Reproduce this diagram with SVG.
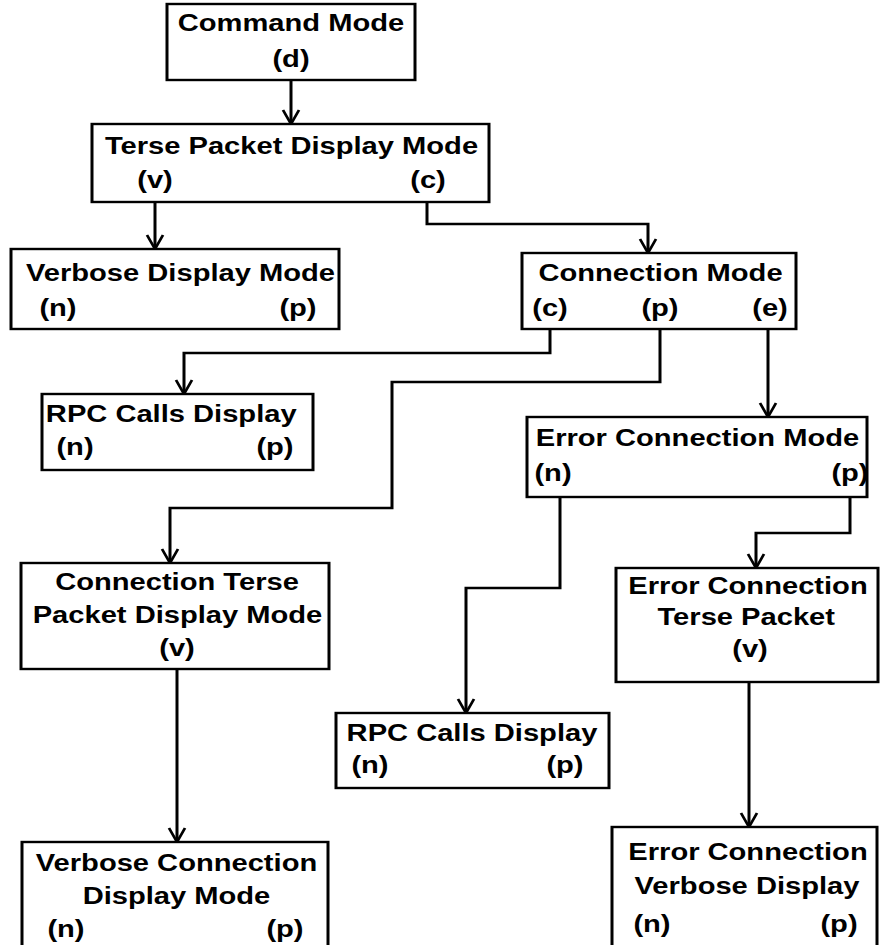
<svg xmlns="http://www.w3.org/2000/svg" width="880" height="945" viewBox="0 0 880 945">
<style>
.box{fill:#fff;stroke:#000;stroke-width:2.4}
.t{font-family:"Liberation Sans",Arial,sans-serif;font-weight:bold;font-size:23.3px;fill:#000;text-anchor:middle}
.c{fill:none;stroke:#000;stroke-width:2.4}
</style>
<defs>
<marker id="arr" markerUnits="userSpaceOnUse" markerWidth="20" markerHeight="20" viewBox="-16 -10 20 20" refX="0" refY="0" orient="auto" overflow="visible">
<path d="M-14,-6.4 L0,0 L-14,6.4" fill="none" stroke="#000" stroke-width="2.2"/>
</marker>
</defs>
<rect width="880" height="945" fill="#fff"/>
<g transform="scale(1.25,1)">
<g id="connectors">
<path class="c" d="M232.8,80 V124" marker-end="url(#arr)"/>
<path class="c" d="M124,202 V249" marker-end="url(#arr)"/>
<path class="c" d="M341.6,202 V224 H518.4 V253" marker-end="url(#arr)"/>
<path class="c" d="M440,329 V353 H147.2 V394" marker-end="url(#arr)"/>
<path class="c" d="M528,329 V382 H313.6 V508 H136 V563" marker-end="url(#arr)"/>
<path class="c" d="M614.4,329 V417" marker-end="url(#arr)"/>
<path class="c" d="M448,497 V588 H372.8 V713" marker-end="url(#arr)"/>
<path class="c" d="M680,497 V533 H604.8 V568" marker-end="url(#arr)"/>
<path class="c" d="M141.6,669 V842" marker-end="url(#arr)"/>
<path class="c" d="M599.2,682 V827" marker-end="url(#arr)"/>
</g>
<g id="command-mode">
<rect class="box" x="133.6" y="4" width="198.4" height="76"/>
<text class="t" x="232.8" y="31">Command Mode</text>
<text class="t" x="232.8" y="67">(d)</text>
</g>
<g id="terse-packet-display-mode">
<rect class="box" x="73.6" y="124" width="317.6" height="78"/>
<text class="t" x="233.2" y="154">Terse Packet Display Mode</text>
<text class="t" x="124" y="188">(v)</text>
<text class="t" x="342.4" y="188">(c)</text>
</g>
<g id="verbose-display-mode">
<rect class="box" x="8.8" y="249" width="262.4" height="80"/>
<text class="t" x="144.4" y="281">Verbose Display Mode</text>
<text class="t" x="46.4" y="316">(n)</text>
<text class="t" x="238.4" y="316">(p)</text>
</g>
<g id="connection-mode">
<rect class="box" x="417.6" y="253" width="219.2" height="76"/>
<text class="t" x="528.4" y="281">Connection Mode</text>
<text class="t" x="440" y="316">(c)</text>
<text class="t" x="528" y="316">(p)</text>
<text class="t" x="616" y="316">(e)</text>
</g>
<g id="rpc-calls-display-1">
<rect class="box" x="33.6" y="394" width="216.8" height="76"/>
<text class="t" x="137" y="422">RPC Calls Display</text>
<text class="t" x="60" y="455">(n)</text>
<text class="t" x="220" y="455">(p)</text>
</g>
<g id="error-connection-mode">
<rect class="box" x="421.6" y="417" width="272" height="80"/>
<text class="t" x="558" y="446">Error Connection Mode</text>
<text class="t" x="442.4" y="481">(n)</text>
<text class="t" x="680" y="481">(p)</text>
</g>
<g id="connection-terse-packet-display-mode">
<rect class="box" x="16.8" y="563" width="246.4" height="106"/>
<text class="t" x="141.6" y="590">Connection Terse</text>
<text class="t" x="142" y="623">Packet Display Mode</text>
<text class="t" x="141.6" y="656">(v)</text>
</g>
<g id="verbose-connection-display-mode">
<rect class="box" x="17.6" y="842" width="244.8" height="120"/>
<text class="t" x="141.2" y="871">Verbose Connection</text>
<text class="t" x="141.2" y="904">Display Mode</text>
<text class="t" x="52.8" y="937">(n)</text>
<text class="t" x="228" y="937">(p)</text>
</g>
<g id="rpc-calls-display-2">
<rect class="box" x="268.8" y="713" width="218.4" height="75"/>
<text class="t" x="377.6" y="741">RPC Calls Display</text>
<text class="t" x="296" y="773">(n)</text>
<text class="t" x="452" y="773">(p)</text>
</g>
<g id="error-connection-terse-packet">
<rect class="box" x="492.8" y="568" width="209.6" height="114"/>
<text class="t" x="598.4" y="594">Error Connection</text>
<text class="t" x="597" y="625">Terse Packet</text>
<text class="t" x="600" y="657">(v)</text>
</g>
<g id="error-connection-verbose-display">
<rect class="box" x="489.6" y="827" width="212" height="135"/>
<text class="t" x="598.4" y="860">Error Connection</text>
<text class="t" x="597.6" y="894">Verbose Display</text>
<text class="t" x="521.6" y="932">(n)</text>
<text class="t" x="671.2" y="932">(p)</text>
</g>
</g>
</svg>
